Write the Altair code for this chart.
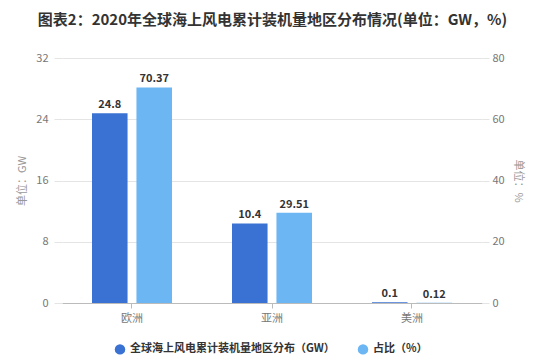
import altair as alt
import pandas as pd

regions = ["欧洲", "亚洲", "美洲"]
gw = [24.8, 10.4, 0.1]
pct = [70.37, 29.51, 0.12]
series = ["全球海上风电累计装机量地区分布（GW）", "占比（%）"]
colors = ["#3a72d3", "#6cb6f4"]
pct_labels = ["70.37", "29.51", "0.12"]
gw_labels = ["24.8", "10.4", "0.1"]

FONT = "Noto Sans CJK SC"

df_gw = pd.DataFrame({"region": regions, "value": gw, "series": series[0], "label": gw_labels})
df_pct = pd.DataFrame({"region": regions, "value": pct, "series": series[1], "label": pct_labels})

x = alt.X("region:N", sort=regions,
          scale=alt.Scale(paddingInner=0.4286, paddingOuter=0.2143),
          axis=alt.Axis(title=None, labelAngle=0, labelColor="#777", labelFontSize=11,
                        labelFont=FONT, domainColor="#bbb", tickColor="#bbb",
                        tickSize=5, labelPadding=4))
xo = alt.XOffset("series:N", sort=series,
                 scale=alt.Scale(domain=series, paddingInner=0.2))
color = alt.Color("series:N", sort=series,
                  scale=alt.Scale(domain=series, range=colors),
                  legend=alt.Legend(title=None, orient="none", direction="horizontal",
                                    legendX=52, legendY=285,
                                    symbolType="circle", symbolSize=110, labelLimit=400,
                                    labelFont=FONT, labelFontSize=11, labelColor="#333",
                                    labelFontWeight="bold", columnPadding=22))

y_left = alt.Y("value:Q", scale=alt.Scale(domain=[0, 32]),
               axis=alt.Axis(title="单位：GW", values=[0, 8, 16, 24, 32], orient="left",
                             grid=True, gridColor="#e4e4e4", domain=False,
                             tickColor="#e4e4e4", tickSize=8, labelColor="#777",
                             labelFontSize=11, labelPadding=6, titleColor="#999",
                             titleFont=FONT, titleFontWeight="normal", titleFontSize=11,
                             titlePadding=8))
y_right = alt.Y("value:Q", scale=alt.Scale(domain=[0, 80]),
                axis=alt.Axis(title="单位：%", values=[0, 20, 40, 60, 80], orient="right",
                              grid=False, domain=False, tickColor="#e4e4e4", tickSize=7,
                              labelColor="#777", labelFontSize=11, labelPadding=3,
                              titleColor="#999", titleFont=FONT, titleFontWeight="normal",
                              titleFontSize=11, titlePadding=8))

bar_gw = alt.Chart(df_gw).mark_bar().encode(x=x, xOffset=xo, y=y_left, color=color)
txt_gw = alt.Chart(df_gw).mark_text(dy=-8, fontWeight="bold", fontSize=11, color="#333").encode(
    x=x, xOffset=xo, y=y_left, text="label:N")
left = alt.layer(bar_gw, txt_gw)

bar_pct = alt.Chart(df_pct).mark_bar().encode(x=x, xOffset=xo, y=y_right, color=color)
txt_pct = alt.Chart(df_pct).mark_text(dy=-8, fontWeight="bold", fontSize=11, color="#333").encode(
    x=x, xOffset=xo, y=y_right, text="label:N")
right = alt.layer(bar_pct, txt_pct)

chart = alt.layer(left, right).resolve_scale(y="independent").properties(
    width=420, height=245,
    title=alt.TitleParams("图表2：2020年全球海上风电累计装机量地区分布情况(单位：GW，%)",
                          anchor="start", font=FONT, fontSize=15, fontWeight="bold",
                          color="#333", offset=24, dx=21)
).configure(font=FONT, padding={"left": 8, "top": 5, "right": 5, "bottom": 5}
).configure_view(strokeWidth=0, stroke=None)

chart.save("out.html", embed_options={"renderer": "svg", "actions": False})
